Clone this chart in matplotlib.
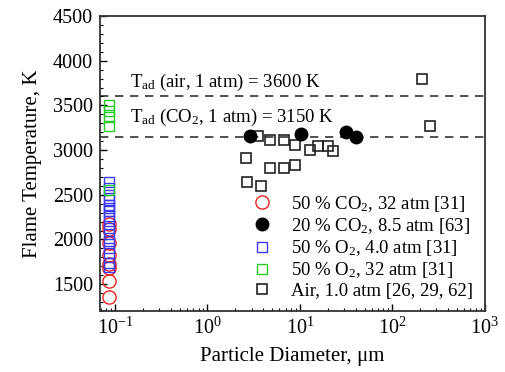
import numpy as np
import matplotlib
matplotlib.use('Agg')
import matplotlib.pyplot as plt
from matplotlib.ticker import MultipleLocator, LogLocator, NullFormatter

plt.rcParams['font.family'] = ['Liberation Serif', 'DejaVu Serif']
plt.rcParams['mathtext.fontset'] = 'custom'
plt.rcParams['mathtext.rm'] = 'Liberation Serif'
plt.rcParams['mathtext.it'] = 'Liberation Serif:italic'

# 50 % CO2, 32 atm [31]
co2_32_d = [0.085] * 8
co2_32_t = [2170, 2120, 1960, 1830, 1730, 1680, 1540, 1360]

# 20 % CO2, 8.5 atm [63]
co2_85_d = [2.85, 10.4, 31.8, 40.8]
co2_85_t = [3161, 3180, 3198, 3146]

# 50 % O2, 4.0 atm [31]
o2_4_d = [0.085] * 16
o2_4_t = [2640, 2577, 2502, 2447, 2391, 2354, 2316, 2260, 2204, 2131,
          2056, 1981, 1907, 1851, 1740, 1690]

# 50 % O2, 32 atm [31]
o2_32_d = [0.085] * 5
o2_32_t = [3507, 3432, 3369, 3265, 2558]

# Air, 1.0 atm [26, 29, 62]
air_d = [212, 254, 3.5, 4.7, 6.8, 8.8, 12.7, 15.7, 20, 22.8,
         2.6, 4.7, 6.8, 8.8, 2.7, 3.8]
air_t = [3797, 3272, 3161, 3108, 3108, 3060, 3005, 3042, 3042, 2986,
         2912, 2800, 2800, 2837, 2644, 2595]

t_ad_air = 3600
t_ad_co2 = 3150

fig = plt.figure(figsize=(5.06, 3.72), dpi=100)
ax = fig.add_axes([0.198, 0.164, 0.76, 0.793])

ax.axhline(t_ad_air, color='#333333', ls=(0, (5, 4)), lw=1.2, zorder=1)
ax.axhline(t_ad_co2, color='#333333', ls=(0, (5, 4)), lw=1.2, zorder=1)

ax.plot(co2_32_d, co2_32_t, 'o', ms=9.5, mfc='none', mec='#e8221e', mew=1.0,
        label=r'50 % CO$_2$, 32 atm [31]')
ax.plot(co2_85_d, co2_85_t, 'o', ms=9, mfc='black', mec='black',
        label=r'20 % CO$_2$, 8.5 atm [63]', zorder=4)
ax.plot(o2_4_d, o2_4_t, 's', ms=7.5, mfc='none', mec='#3a3af0', mew=1.0,
        label=r'50 % O$_2$, 4.0 atm [31]')
ax.plot(o2_32_d, o2_32_t, 's', ms=7.5, mfc='none', mec='#22cc22', mew=1.0,
        label=r'50 % O$_2$, 32 atm [31]')
ax.plot(air_d, air_t, 's', ms=7.5, mfc='none', mec='#222222', mew=1.2,
        label='Air, 1.0 atm [26, 29, 62]')

ax.text(0.145, 3708, r'$\mathregular{T_{ad}}$ (air, 1 atm) = 3600 K', fontsize=13.5)
ax.text(0.145, 3317, r'$\mathregular{T_{ad}}$ (CO$_2$, 1 atm) = 3150 K', fontsize=13.5)

ax.set_xscale('log')
ax.set_xlim(0.069, 1000)
ax.set_ylim(1200, 4500)
ax.yaxis.set_major_locator(MultipleLocator(500))
ax.yaxis.set_minor_locator(MultipleLocator(100))
ax.xaxis.set_minor_locator(LogLocator(base=10, subs=np.arange(2, 10)))
ax.xaxis.set_minor_formatter(NullFormatter())

ax.tick_params(which='both', direction='in', top=False, right=False, labelsize=14.5)
ax.tick_params(which='major', length=5, width=1, pad=5)
ax.tick_params(which='minor', length=2.5, width=0.8)
for s in ax.spines.values():
    s.set_linewidth(1.3)
    s.set_color('#333333')

ax.set_xlabel('Particle Diameter, μm', fontsize=15, labelpad=6)
ax.set_ylabel('Flame Temperature, K', fontsize=15, labelpad=8)

ax.legend(loc='lower right', frameon=False, fontsize=13.5, handletextpad=0.8,
          labelspacing=0.12, borderaxespad=0.2, handlelength=1.5)

fig.savefig('out.png', dpi=100)
